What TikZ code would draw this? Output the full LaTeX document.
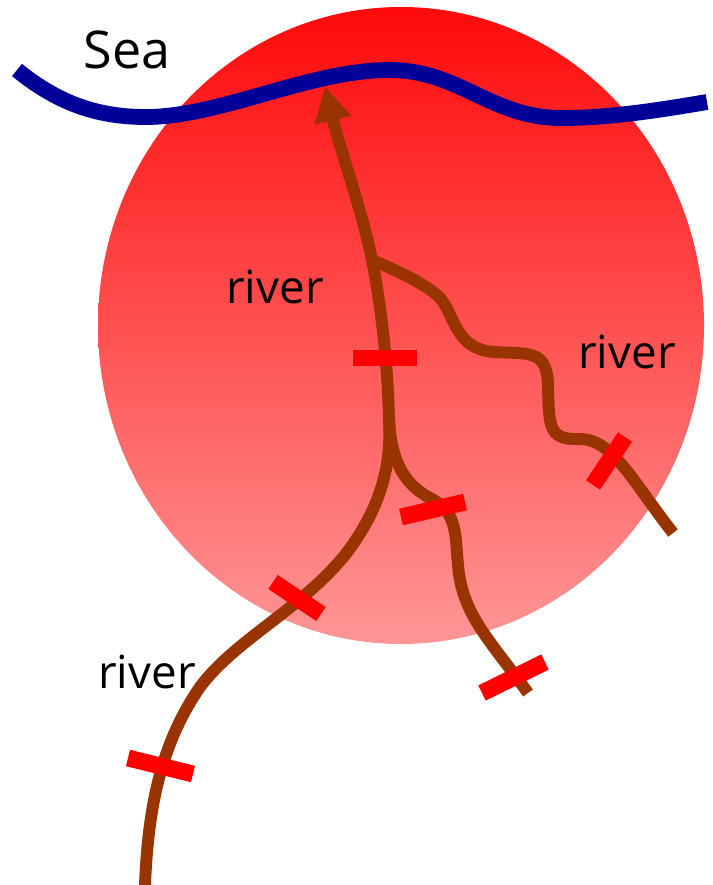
\documentclass[tikz,border=0pt]{standalone}
\usepackage{fontspec}
\setmainfont{Open Sans}
\usetikzlibrary{arrows.meta}
\definecolor{seablue}{RGB}{0,0,153}
\definecolor{riverbrown}{RGB}{153,51,0}
\tikzset{
    sealine/.style={seablue, line width=4.5pt},
    riverline/.style={riverbrown, line width=3.4pt},
    gauge/.style={red, line width=4.8pt},
    lbl/.style={font=\fontsize{13pt}{15pt}\selectfont, inner sep=0pt, text=black}
}
\begin{document}
\begin{tikzpicture}[x=0.01cm,y=-0.01cm]
    \useasboundingbox (0,0) rectangle (712,885);
    % catchment
    \shade[top color={rgb,255:red,255;green,10;blue,10}, middle color={rgb,255:red,255;green,112;blue,112}, bottom color={rgb,255:red,255;green,150;blue,150}]
        (401,325.5) ellipse [x radius=303, y radius=318.5];
    % sea
    \draw[sealine] (17,70) .. controls (60,105) and (100,117) .. (146,117)
        .. controls (220,117) and (310,70) .. (389,70)
        .. controls (460,70) and (490,118) .. (562,118)
        .. controls (610,118) and (660,110) .. (707,102);
    % main river
    \coordinate (upper) at (372,260);
    \coordinate (fork) at (389,420);
    \draw[riverline, -{Triangle[length=10pt, width=10pt]}] (145,885) .. controls (148,810) and (160,745) .. (200,687)
        .. controls (235,640) and (300,610) .. (345,555)
        .. controls (378,512) and (392,470) .. (fork)
        .. controls (388,370) and (382,310) .. (upper)
        .. controls (362,210) and (340,150) .. (325,86);
    % branches
    \draw[riverline] (upper) .. controls (395,270) and (425,283) .. (440,298)
        .. controls (455,315) and (455,350) .. (495,352)
        .. controls (530,354) and (547,350) .. (548,385)
        .. controls (549,425) and (548,440) .. (578,439)
        .. controls (612,438) and (630,478) .. (673,533);
    \draw[riverline] (fork) .. controls (391,455) and (400,482) .. (430,498)
        .. controls (458,512) and (455,535) .. (458,565)
        .. controls (462,615) and (490,640) .. (528,693);
    % gauges
    \draw[gauge] (353,358) -- (417,358);
    \draw[gauge] (401,517) -- (465,502);
    \draw[gauge] (625,437) -- (593,485);
    \draw[gauge] (273,582) -- (321,614);
    \draw[gauge] (482,693) -- (545,662);
    \draw[gauge] (128,758) -- (193,774);
    % labels
    \node[lbl, font=\fontsize{14.8pt}{16pt}\selectfont] (sea) at (127,50) {Sea};
    \node[lbl] (rivera) at (275,287) {river};
    \node[lbl] (riverb) at (627,352) {river};
    \node[lbl] (riverc) at (147,672) {river};
\end{tikzpicture}
\end{document}
